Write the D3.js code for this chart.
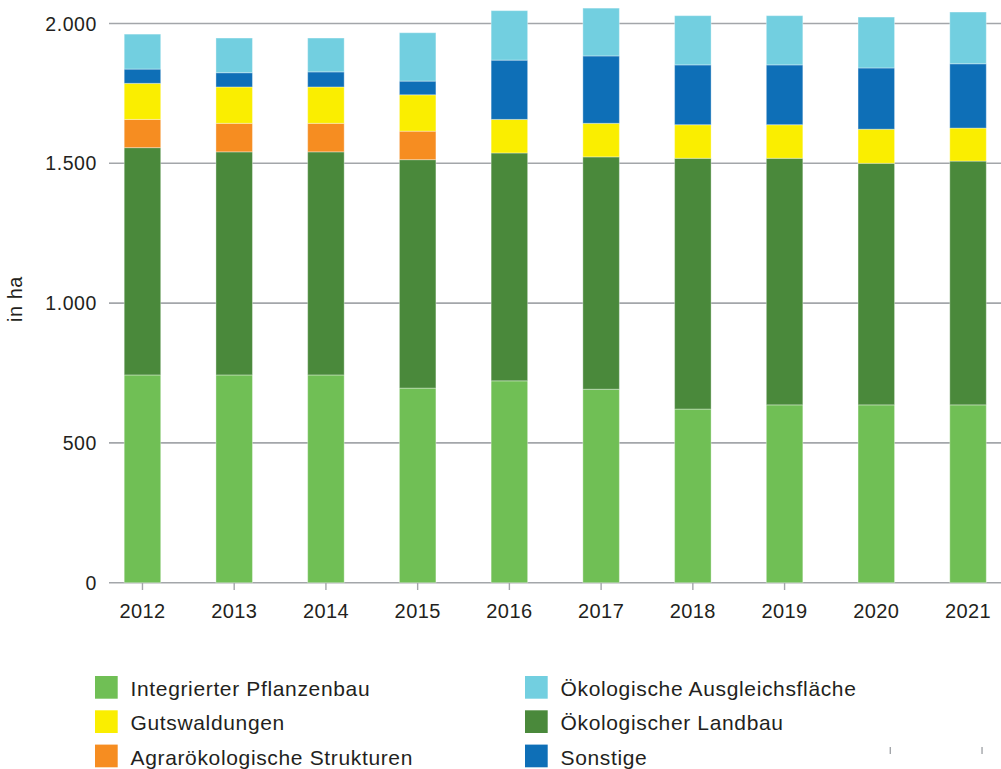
<!DOCTYPE html>
<html>
<head>
<meta charset="utf-8">
<script src="https://cdn.jsdelivr.net/npm/d3@7"></script>
<style>
  body { margin: 0; background: #fff; }
  svg { display: block; font-family: "Liberation Sans", Arial, sans-serif; }
</style>
</head>
<body>
<svg width="1001" height="769"></svg>
<script>
// data (ha)
var years = ['2012','2013','2014','2015','2016','2017','2018','2019','2020','2021'];
var integriert = [743, 743, 743, 696, 722, 692, 621, 636, 636, 636];
var oekoLandbau = [813, 798, 798, 817, 815, 831, 897, 882, 864, 872];
var agraroeko = [101, 102, 102, 102, 0, 0, 0, 0, 0, 0];
var gutswald = [129, 130, 130, 130, 120, 120, 120, 120, 122, 118];
var sonstige = [51, 51, 54, 49, 212, 241, 214, 214, 219, 230];
var ausgleich = [125, 124, 121, 173, 177, 171, 176, 176, 182, 185];
var yTicks = [0, 500, 1000, 1500, 2000];

var keys = ['integriert','oekoLandbau','agraroeko','gutswald','sonstige','ausgleich'];
var colors = {
  integriert: '#70bf55', oekoLandbau: '#4a893b', agraroeko: '#f68d21',
  gutswald: '#faee00', sonstige: '#0e6fb7', ausgleich: '#72cfe0'
};
var labels = {
  integriert: 'Integrierter Pflanzenbau', oekoLandbau: 'Ökologischer Landbau',
  agraroeko: 'Agrarökologische Strukturen', gutswald: 'Gutswaldungen',
  sonstige: 'Sonstige', ausgleich: 'Ökologische Ausgleichsfläche'
};

var rows = years.map(function(y, i) {
  return {year: y, integriert: integriert[i], oekoLandbau: oekoLandbau[i], agraroeko: agraroeko[i],
          gutswald: gutswald[i], sonstige: sonstige[i], ausgleich: ausgleich[i]};
});

var svg = d3.select('svg');
var fmt = d3.formatLocale({decimal: ',', thousands: '.', grouping: [3], currency: ['', '€']}).format(',');

var y = d3.scaleLinear().domain([0, 2000]).range([582.7, 23.5]);
var x = d3.scaleBand().domain(years).range([96.6, 1013.9]).paddingInner(0.602).paddingOuter(0.301);

// grid
svg.append('g').selectAll('line').data(yTicks).join('line')
  .attr('x1', 109).attr('x2', 1001)
  .attr('y1', d => y(d)).attr('y2', d => y(d))
  .style('stroke', '#a3a6aa').style('stroke-width', 1.6);

svg.append('g').selectAll('text').data(yTicks).join('text')
  .attr('x', 97).attr('y', d => y(d)).attr('dy', '0.36em')
  .attr('text-anchor', 'end')
  .style('font-size', '19.5px').style('letter-spacing', '0.6px').style('fill', '#231f20')
  .text(d => fmt(d));

svg.append('text')
  .attr('transform', 'translate(22,299) rotate(-90)')
  .attr('text-anchor', 'middle')
  .style('font-size', '20px').style('letter-spacing', '0.5px').style('fill', '#231f20')
  .text('in ha');

// bars
var series = d3.stack().keys(keys)(rows);
svg.append('g').selectAll('g').data(series).join('g')
  .style('fill', d => colors[d.key])
  .selectAll('rect').data(d => d).join('rect')
  .attr('x', d => x(d.data.year))
  .attr('width', x.bandwidth())
  .attr('y', d => y(d[1]))
  .attr('height', d => y(d[0]) - y(d[1]))
  .style('stroke', 'rgba(255,255,255,0.35)').style('stroke-width', 1);

// x axis
var xAxis = svg.append('g').attr('transform', 'translate(0,583)')
  .call(d3.axisBottom(x).tickSize(7).tickSizeOuter(0).tickPadding(14));
xAxis.select('.domain').remove();
xAxis.selectAll('line').style('stroke', '#a3a6aa').style('stroke-width', 1.4)
  .style('display', d => (d == '2020' || d == '2021') ? 'none' : null);
xAxis.selectAll('text').style('font-size', '20px').style('fill', '#231f20')
  .style('letter-spacing', '0.4px')
  .style('font-family', '"Liberation Sans", Arial, sans-serif');

// stray ticks that ended up near the legend
svg.append('g').selectAll('line').data(['2020','2021']).join('line')
  .attr('x1', d => x(d) + x.bandwidth() / 2 + 14).attr('x2', d => x(d) + x.bandwidth() / 2 + 14)
  .attr('y1', 747).attr('y2', 754)
  .style('stroke', '#a3a6aa').style('stroke-width', 1.4);

// legend
var legendOrder = [['integriert', 'ausgleich'], ['gutswald', 'oekoLandbau'], ['agraroeko', 'sonstige']];
var colX = [95, 525];
legendOrder.forEach(function(r, ri) {
  r.forEach(function(k, ci) {
    var g = svg.append('g').attr('transform', 'translate(' + colX[ci] + ',' + (676 + ri * 34.3) + ')');
    g.append('rect').attr('width', 22.7).attr('height', 22.7).style('fill', colors[k]);
    g.append('text').attr('x', 35.5).attr('y', 20)
      .style('font-size', '21px').style('letter-spacing', '0.65px').style('fill', '#231f20')
      .text(labels[k]);
  });
});
</script>
</body>
</html>
